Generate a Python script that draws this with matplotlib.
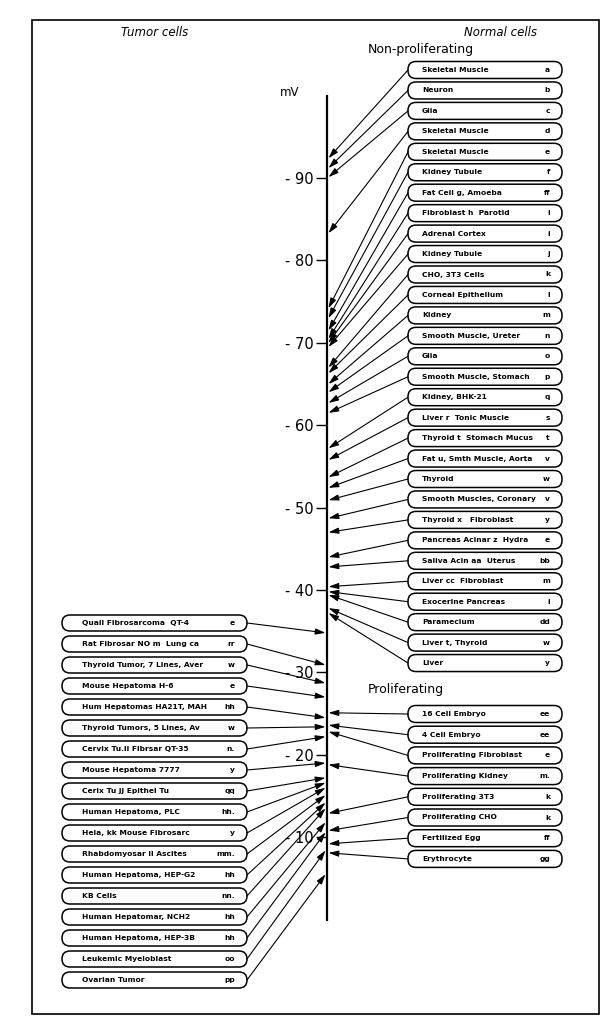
import numpy as np
import matplotlib.pyplot as plt
from matplotlib.patches import FancyBboxPatch, Rectangle

plt.rcParams['font.family'] = ['DejaVu Sans']

# normal cells, non-proliferating
np_labels = ["Skeletal Muscle", "Neuron", "Glia", "Skeletal Muscle", "Skeletal Muscle",
             "Kidney Tubule", "Fat Cell g, Amoeba", "Fibroblast h  Parotid", "Adrenal Cortex",
             "Kidney Tubule", "CHO, 3T3 Cells", "Corneal Epithelium", "Kidney",
             "Smooth Muscle, Ureter", "Glia", "Smooth Muscle, Stomach", "Kidney, BHK-21",
             "Liver r  Tonic Muscle", "Thyroid t  Stomach Mucus", "Fat u, Smth Muscle, Aorta",
             "Thyroid", "Smooth Muscles, Coronary", "Thyroid x   Fibroblast",
             "Pancreas Acinar z  Hydra", "Saliva Acin aa  Uterus", "Liver cc  Fibroblast",
             "Exocerine Pancreas", "Paramecium", "Liver t, Thyroid", "Liver"]
np_codes = ["a", "b", "c", "d", "e", "f", "ff", "i", "i", "j", "k", "l", "m", "n", "o", "p",
            "q", "s", "t", "v", "w", "v", "y", "e", "bb", "m", "i", "dd", "w", "y"]
np_mv = [-92.4, -91.2, -90.1, -83.3, -74.2, -73.0, -71.5, -70.5, -70.0, -69.5, -67.0,
         -66.3, -65.0, -64.0, -62.7, -61.5, -57.2, -55.8, -53.7, -52.4, -50.9, -48.7,
         -47.0, -44.0, -42.8, -40.4, -39.8, -39.4, -37.8, -37.2]

# normal cells, proliferating
pr_labels = ["16 Cell Embryo", "4 Cell Embryo", "Proliferating Fibroblast",
             "Proliferating Kidney", "Proliferating 3T3", "Proliferating CHO",
             "Fertilized Egg", "Erythrocyte"]
pr_codes = ["ee", "ee", "e", "m.", "k", "k", "ff", "gg"]
pr_mv = [-25.1, -23.6, -22.8, -18.8, -12.9, -10.8, -9.2, -8.1]

# tumor cells
tu_labels = ["Quail Fibrosarcoma  QT-4", "Rat Fibrosar NO m  Lung ca",
             "Thyroid Tumor, 7 Lines, Aver", "Mouse Hepatoma H-6",
             "Hum Hepatomas HA21T, MAH", "Thyroid Tumors, 5 Lines, Av",
             "Cervix Tu.ii Fibrsar QT-35", "Mouse Hepatoma 7777",
             "Cerix Tu jj Epithel Tu", "Human Hepatoma, PLC", "Hela, kk Mouse Fibrosarc",
             "Rhabdomyosar ll Ascites", "Human Hepatoma, HEP-G2", "KB Cells",
             "Human Hepatomar, NCH2", "Human Hepatoma, HEP-3B", "Leukemic Myeloblast",
             "Ovarian Tumor"]
tu_codes = ["e", "rr", "w", "e", "hh", "w", "n.", "y", "qq", "hh.", "y", "mm.", "hh",
            "nn.", "hh", "hh", "oo", "pp"]
tu_mv = [-34.8, -30.9, -28.7, -27.0, -24.5, -23.4, -22.2, -19.0, -17.2, -16.6, -16.0,
         -15.1, -14.2, -13.5, -11.8, -10.6, -8.4, -5.5]

tick_vals = [-90, -80, -70, -60, -50, -40, -30, -20, -10]

# layout: y axis is in mV, pixel rows converted for the boxes
PX_PER_MV = 8.24
def px2mv(p):
    return -90 + (p - 178) / PX_PER_MV

fig = plt.figure(figsize=(6.15, 10.24), dpi=100)
ax = fig.add_axes([0, 0, 1, 1])
ax.set_xlim(0, 615)
ax.set_ylim(px2mv(1024), px2mv(0))

AXIS_X = 327
for s in ['top', 'right', 'bottom']:
    ax.spines[s].set_visible(False)
ax.spines['left'].set_position(('data', AXIS_X))
ax.spines['left'].set_bounds(-100, 0)
ax.spines['left'].set_linewidth(1.6)
ax.set_xticks([])
ax.set_yticks(tick_vals)
ax.set_yticklabels(["- %d" % abs(t) for t in tick_vals])
ax.tick_params(axis='y', direction='out', length=8, width=1, pad=1.5, labelsize=10.5)

# frame
ax.add_patch(Rectangle((32, px2mv(1014)), 567, px2mv(20) - px2mv(1014),
                       fill=False, lw=1.2, ec='black'))

ax.text(155, px2mv(33), "Tumor cells", ha='center', va='center', style='italic', fontsize=8.5)
ax.text(500, px2mv(33), "Normal cells", ha='center', va='center', style='italic', fontsize=8.5)
ax.text(368, px2mv(49), "Non-proliferating", ha='left', va='center', fontsize=9)
ax.text(368, px2mv(690), "Proliferating", ha='left', va='center', fontsize=9)
ax.text(290, px2mv(92), "mV", ha='center', va='center', fontsize=8.5)

arrow_kw = dict(arrowstyle='-|>,head_length=0.6,head_width=0.18', lw=0.8, color='black',
                shrinkA=0, shrinkB=0, mutation_scale=10)

def draw_box(x0, w, yc, label, code, h=17, lpad=20):
    hm = h / PX_PER_MV
    box = FancyBboxPatch((x0, yc - hm / 2), w, hm,
                         boxstyle="round,pad=0,rounding_size=8",
                         mutation_aspect=1 / PX_PER_MV, fc='white', ec='black', lw=1.1)
    ax.add_patch(box)
    ax.text(x0 + lpad, yc, label, ha='left', va='center', fontsize=5.4, fontweight='bold')
    ax.text(x0 + w - 12, yc, code, ha='right', va='center', fontsize=5.4, fontweight='bold')

# right side boxes
RX, RW = 408, 154
for i, (lab, code, v) in enumerate(zip(np_labels, np_codes, np_mv)):
    yc = px2mv(70 + i * 20.45)
    ax.annotate('', xy=(AXIS_X + 1.5, v), xytext=(RX, yc), arrowprops=arrow_kw)
    draw_box(RX, RW, yc, lab, code, lpad=14)

for i, (lab, code, v) in enumerate(zip(pr_labels, pr_codes, pr_mv)):
    yc = px2mv(714 + i * 20.7)
    ax.annotate('', xy=(AXIS_X + 1.5, v), xytext=(RX, yc), arrowprops=arrow_kw)
    draw_box(RX, RW, yc, lab, code, lpad=14)

# left side boxes
LX, LW = 62, 185
for i, (lab, code, v) in enumerate(zip(tu_labels, tu_codes, tu_mv)):
    yc = px2mv(623 + i * 21.0)
    ax.annotate('', xy=(AXIS_X - 1.5, v), xytext=(LX + LW, yc), arrowprops=arrow_kw)
    draw_box(LX, LW, yc, lab, code, h=16)

fig.savefig('out.png', dpi=100)
